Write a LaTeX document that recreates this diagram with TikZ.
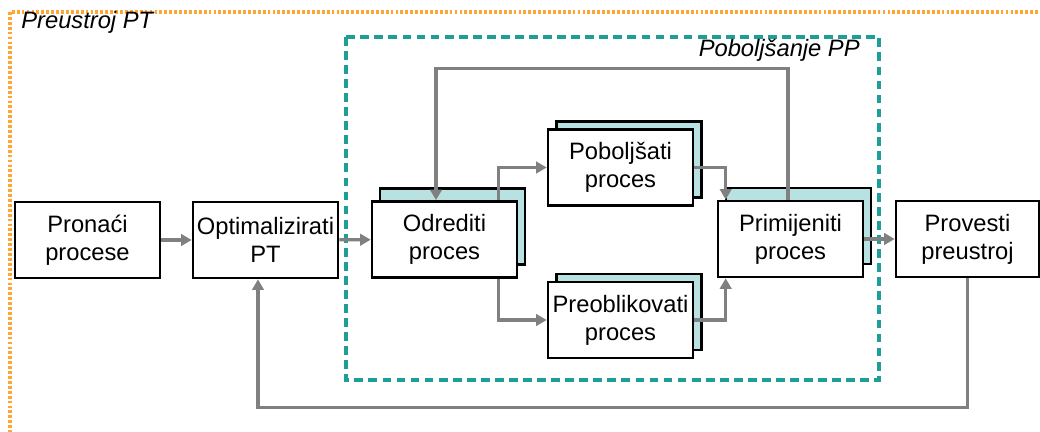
\documentclass[tikz,border=0pt]{standalone}
\usepackage{fontspec}
\setmainfont{Liberation Sans}
\usepackage{xcolor}
\usetikzlibrary{arrows.meta,shadows}
\definecolor{linegray}{HTML}{808080}
\definecolor{shadeteal}{HTML}{B8E2E2}
\definecolor{ppteal}{HTML}{1F9E99}
\definecolor{ptorange}{HTML}{FFA534}
\begin{document}
\begin{tikzpicture}[x=0.02cm,y=-0.02cm,
    box/.style={draw=black, line width=1.5pt, fill=white, minimum width=2.9cm, minimum height=1.52cm, inner sep=1pt, align=center, font=\fontsize{13.5}{16}\selectfont},
    bigshadow/.style={copy shadow={shadow xshift=4.6pt, shadow yshift=7.3pt, fill=shadeteal, draw=black, line width=1.5pt}},
    smallshadow/.style={copy shadow={shadow xshift=5pt, shadow yshift=4.6pt, fill=shadeteal, draw=black, line width=1.5pt}},
    conn/.style={draw=linegray, line width=1.8pt, -{Triangle[length=6pt,width=6.5pt]}},
    label/.style={font=\fontsize{13.5}{16}\selectfont\itshape, inner sep=0pt}]
  \useasboundingbox (0,0) rectangle (1040,432);
  \clip (0,0) rectangle (1040,432);
  \draw[ptorange, line width=2.2pt, dash pattern=on 1.6pt off 1.2pt] (10,12) rectangle (1060,450);
  \node[label, anchor=west] (ptlabel) at (21,22) {Preustroj PT};
  \draw[ppteal, line width=1.8pt, dash pattern=on 5pt off 3pt] (346,37) rectangle (879,380);
  \node[label, anchor=east] (pplabel) at (860,50) {Poboljšanje PP};
  \node[box] (pronaci) at (87.5,240) {Pronaći\\procese};
  \node[box] (optim) at (265.5,240) {Optimalizirati\\PT};
  \node[box, bigshadow] (odrediti) at (444.5,239.5) {Odrediti\\proces};
  \node[box, smallshadow] (poboljsati) at (620.5,167.5) {Poboljšati\\proces};
  \node[box, smallshadow] (preobl) at (620.5,320) {Preoblikovati\\proces};
  \node[box, bigshadow] (primijeniti) at (790.5,239) {Primijeniti\\proces};
  \node[box, minimum width=2.86cm] (provesti) at (967.5,239) {Provesti\\preustroj};
  \draw[conn] (pronaci) -- (optim);
  \draw[conn] (optim) -- (odrediti);
  \draw[conn] ([xshift=-0.4cm]odrediti.north east) |- (poboljsati.west);
  \draw[conn] ([xshift=-0.4cm]odrediti.south east) |- (preobl.west);
  \draw[conn] (poboljsati.east) -| ([xshift=0.18cm]primijeniti.north west);
  \draw[conn] (preobl.east) -| ([xshift=0.18cm]primijeniti.south west);
  \draw[conn] (primijeniti.east) -- (provesti.west);
  \draw[conn] ([xshift=-0.05cm]primijeniti.north) -- ++(0,-131) -| ([xshift=-0.17cm]odrediti.north);
  \draw[conn] (provesti.south) -- ++(0,129) -| ([xshift=-0.15cm]optim.south);
\end{tikzpicture}
\end{document}
